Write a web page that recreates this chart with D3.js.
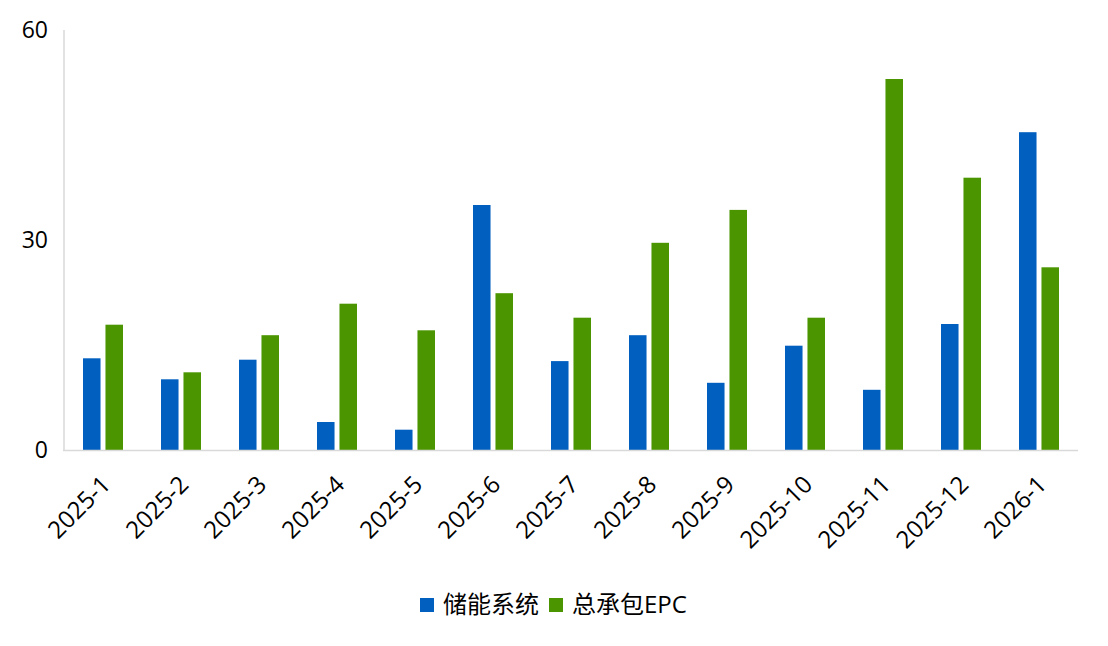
<!DOCTYPE html>
<html>
<head>
<meta charset="utf-8">
<script src="https://cdn.jsdelivr.net/npm/d3@7"></script>
<style>
  body { margin: 0; background: #fff; }
  text { font-family: "Open Sans", "Noto Sans CJK SC", sans-serif; fill: #000; }
</style>
</head>
<body>
<svg id="chart" width="1108" height="646"></svg>
<script>
var months = ["2025-1", "2025-2", "2025-3", "2025-4", "2025-5", "2025-6", "2025-7",
              "2025-8", "2025-9", "2025-10", "2025-11", "2025-12", "2026-1"];
var storage = [13.1, 10.1, 12.9, 4.0, 2.9, 35.0, 12.7, 16.4, 9.6, 14.9, 8.6, 18.0, 45.4];
var epc = [17.9, 11.1, 16.4, 20.9, 17.1, 22.4, 18.9, 29.6, 34.3, 18.9, 53.0, 38.9, 26.1];
var seriesNames = ["储能系统", "总承包EPC"];
var colors = ["#005FBF", "#4B9500"];
var yTicks = [0, 30, 60];

var svg = d3.select("#chart");
var margin = {left: 64, right: 30, top: 30, bottom: 196};
var width = +svg.attr("width");
var height = +svg.attr("height");

var x = d3.scaleBand()
    .domain(months)
    .range([margin.left, width - margin.right])
    .paddingInner(0).paddingOuter(0);

var x1 = d3.scaleBand()
    .domain(seriesNames)
    .range([19, x.bandwidth() - 19])
    .paddingInner(0.22);

var y = d3.scaleLinear()
    .domain([0, 60])
    .range([height - margin.bottom, margin.top]);

// data rows
var rows = months.map(function (m, i) {
    return {month: m, values: [storage[i], epc[i]]};
});

// bars
var groups = svg.selectAll(".group")
    .data(rows)
    .enter()
    .append("g")
    .attr("class", "group")
    .attr("transform", function (d) { return "translate(" + x(d.month) + ",0)"; });

groups.selectAll("rect")
    .data(function (d) { return d.values; })
    .enter()
    .append("rect")
    .attr("x", function (d, i) { return x1(seriesNames[i]); })
    .attr("width", x1.bandwidth())
    .attr("y", function (d) { return y(d); })
    .attr("height", function (d) { return y(0) - y(d); })
    .attr("fill", function (d, i) { return colors[i]; });

// axes lines
svg.append("line")
    .attr("x1", margin.left).attr("x2", margin.left)
    .attr("y1", y(60)).attr("y2", y(0))
    .attr("stroke", "#D9D9D9").attr("stroke-width", 1.5);

svg.append("line")
    .attr("x1", margin.left - 1).attr("x2", width - margin.right)
    .attr("y1", y(0) + 0.5).attr("y2", y(0) + 0.5)
    .attr("stroke", "#D9D9D9").attr("stroke-width", 1.5);

// y tick labels
svg.selectAll(".ytick")
    .data(yTicks)
    .enter()
    .append("text")
    .attr("class", "ytick")
    .attr("x", 48)
    .attr("y", function (d) { return y(d); })
    .attr("dy", "0.35em")
    .attr("text-anchor", "end")
    .style("font-size", "23px")
    .text(function (d) { return d; });

// x tick labels, rotated
svg.selectAll(".xtick")
    .data(months)
    .enter()
    .append("text")
    .attr("class", "xtick")
    .attr("text-anchor", "end")
    .style("font-size", "24px")
    .attr("transform", function (d) {
        var cx = x(d) + x.bandwidth() / 2 + 9;
        return "translate(" + cx + "," + (y(0) + 36) + ") rotate(-45)";
    })
    .text(function (d) { return d; });

// legend
var legend = svg.append("g").attr("transform", "translate(420,598)");
var lx = 0;
seriesNames.forEach(function (name, i) {
    var item = legend.append("g").attr("transform", "translate(" + lx + ",0)");
    item.append("rect")
        .attr("width", 14).attr("height", 14)
        .attr("fill", colors[i]);
    var t = item.append("text")
        .attr("x", 23).attr("y", 7)
        .attr("dy", "0.35em")
        .style("font-size", "24px")
        .text(name);
    lx += 23 + t.node().getComputedTextLength() + 10;
});
</script>
</body>
</html>
